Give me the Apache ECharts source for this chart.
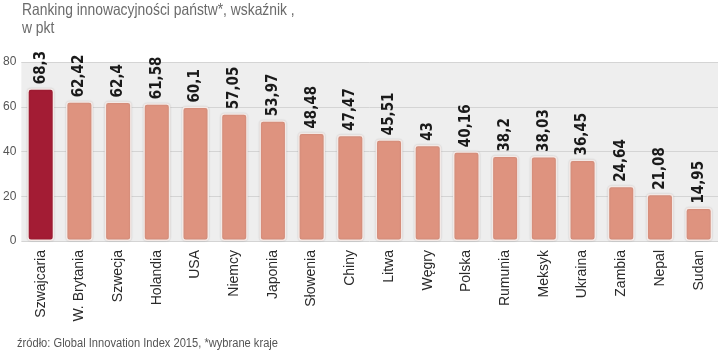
<!DOCTYPE html>
<html><head><meta charset="utf-8">
<script src="https://cdn.jsdelivr.net/npm/echarts@6/dist/echarts.min.js"></script>
<style>html,body{margin:0;padding:0;background:#fff}#c{width:720px;height:352px}</style>
</head><body><div id="c"></div>
<script>
const categories = ["Szwajcaria","W. Brytania","Szwecja","Holandia","USA","Niemcy","Japonia","Słowenia","Chiny","Litwa","Węgry","Polska","Rumunia","Meksyk","Ukraina","Zambia","Nepal","Sudan"];
const values = [68.3,62.42,62.4,61.58,60.1,57.05,53.97,48.48,47.47,45.51,43,40.16,38.2,38.03,36.45,24.64,21.08,14.95];
const yTicks = [0,20,40,60,80];
const highlightIndex = 0;
const titleText = 'Ranking innowacyjności państw*, wskaźnik ,\nw pkt';
const sourceText = 'źródło: Global Innovation Index 2015, *wybrane kraje';

const chart = echarts.init(document.getElementById('c'));
chart.setOption({
  animation:false,
  backgroundColor:'#fff',
  graphic:[
    {type:'text',left:22,top:1,scaleX:0.84,
     style:{text:titleText,font:'16.5px "Liberation Sans"',fill:'#6b6b6b',lineHeight:18}},
    {type:'text',left:17,top:337,scaleX:0.89,
     style:{text:sourceText,font:'12.5px "Liberation Sans"',fill:'#555'}}
  ],
  grid:{left:18,right:2,top:62,bottom:111,show:true,backgroundColor:'#eeeeee',borderWidth:0},
  xAxis:{type:'category',data:categories,
    axisLine:{show:false},axisTick:{show:false},
    axisLabel:{rotate:90,interval:0,margin:9,fontFamily:'Liberation Sans',fontSize:14,color:'#2a2a2a'}},
  yAxis:{type:'value',min:yTicks[0],max:yTicks[yTicks.length-1],interval:20,
    axisLine:{show:false},axisTick:{show:false},
    axisLabel:{margin:5,fontFamily:'Liberation Sans',fontSize:12,color:'#555'},
    splitLine:{lineStyle:{color:'#d4d4d4',width:1}}},
  series:[{type:'bar',barWidth:27,
    data:values.map((v,i)=>({value:v,itemStyle:{color:i===highlightIndex?'#a31c34':'#de937f'}})),
    itemStyle:{borderColor:'#f3e9e6',borderWidth:1.5,borderRadius:3,shadowColor:'rgba(0,0,0,0.15)',shadowBlur:2},
    label:{show:true,position:'top',rotate:90,align:'left',verticalAlign:'middle',distance:4,
      fontFamily:'DejaVu Sans Condensed',fontWeight:'bold',fontSize:15,color:'#1a1a1a',
      formatter:p=>String(p.value).replace('.',',')}
  }]
});
</script></body></html>
